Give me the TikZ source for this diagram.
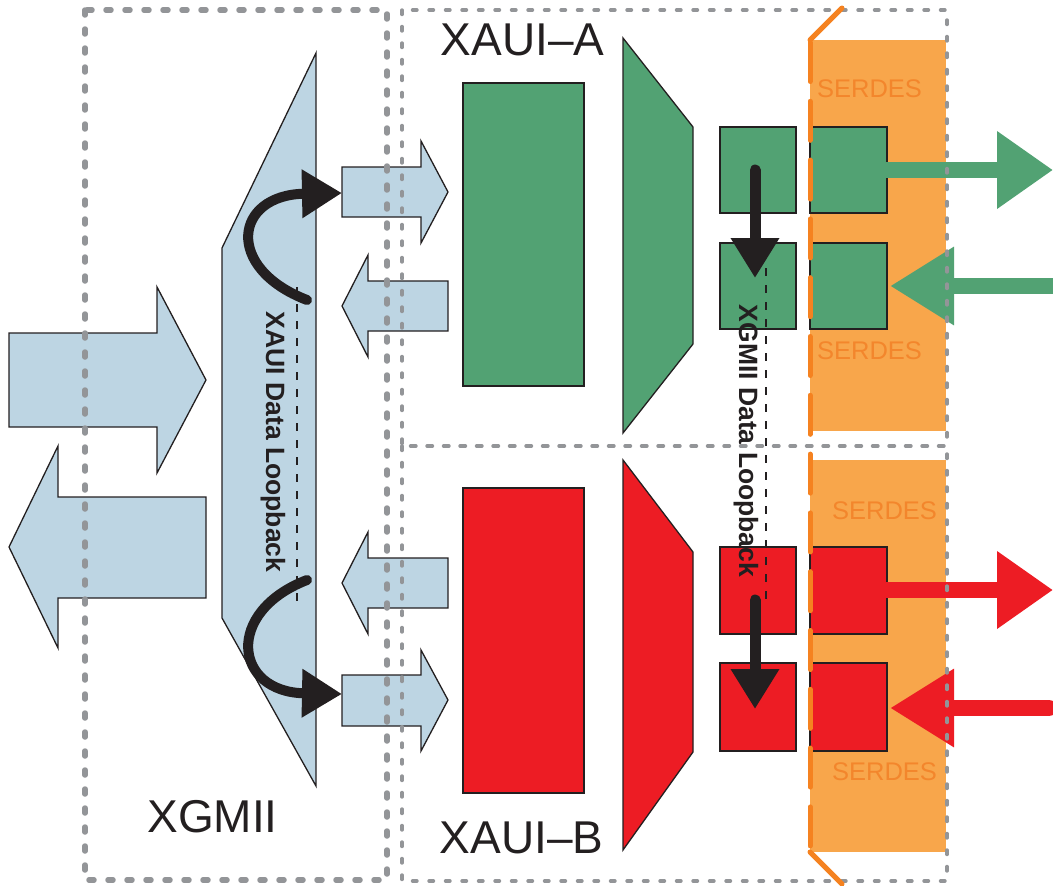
\documentclass[tikz,border=0pt]{standalone}
\usepackage{fontspec}
\setmainfont{Liberation Sans}
\usetikzlibrary{arrows.meta}
\definecolor{lblue}{HTML}{BDD5E3}
\definecolor{ink}{HTML}{231F20}
\definecolor{xgreen}{HTML}{52A273}
\definecolor{xred}{HTML}{ED1C24}
\definecolor{ofill}{HTML}{F8A64B}
\definecolor{oline}{HTML}{F58220}
\definecolor{otext}{HTML}{F3862C}
\definecolor{gdash}{HTML}{939598}
\tikzset{
  outl/.style={draw=ink, line width=1.3pt, line join=miter},
  bluesh/.style={outl, fill=lblue},
  blockbox/.style={outl, inner sep=0pt, outer sep=0pt, minimum width=121pt},
  sq/.style={outl, inner sep=0pt, outer sep=0pt, minimum width=76pt, minimum height=86pt},
  bigbox/.style={gdash, line width=5.5pt, line cap=round, dash pattern=on 5pt off 14pt},
  smallbox/.style={gdash, line width=3.4pt, line cap=round, dash pattern=on 4.5pt off 12pt},
  loopcurve/.style={ink, line width=10pt, line cap=round, -{Triangle[length=40pt,width=46pt]}},
  loopdown/.style={ink, line width=11pt, line cap=round, -{Triangle[length=40pt,width=46pt]}},
  guide/.style={ink, line width=1.4pt, dash pattern=on 8pt off 9pt},
  colarrow/.style={line width=16pt, line cap=round, -{Triangle[length=56pt,width=74pt]}},
  colarrowL/.style={line width=16pt, line cap=round, -{Triangle[length=64pt,width=74pt]}},
  bigtext/.style={ink, font=\fontsize{46}{46}\selectfont, anchor=base, inner sep=0pt},
  serdes/.style={otext, font=\fontsize{25.5}{25.5}\selectfont, anchor=base, inner sep=0pt},
  looptext/.style={ink, font=\bfseries\fontsize{26.5}{26.5}\selectfont, rotate=-90, inner sep=0pt},
  oedge/.style={oline, line width=5pt, line cap=round}
}
\begin{document}
\begin{tikzpicture}[x=1pt,y=-1pt]
\useasboundingbox (0,0) rectangle (1053,886);

% orange SERDES areas
\fill[ofill] (810,40) rectangle (946,431);
\fill[ofill] (810,460) rectangle (946,852);

% XGMII trapezoid
\filldraw[bluesh] (316,53) -- (316,786) -- (222,618) -- (222,248) -- cycle;

% big XGMII arrows
\filldraw[bluesh] (9,333) -- (157,333) -- (157,287) -- (206,380) -- (157,473) -- (157,427) -- (9,427) -- cycle;
\filldraw[bluesh] (206,497) -- (58,497) -- (58,446) -- (9,547) -- (58,648) -- (58,598) -- (206,598) -- cycle;

% small blue arrows
\filldraw[bluesh] (342,167) -- (421,167) -- (421,141) -- (448,192) -- (421,243) -- (421,217) -- (342,217) -- cycle;
\filldraw[bluesh] (448,281) -- (368,281) -- (368,255) -- (342,306) -- (368,357) -- (368,331) -- (448,331) -- cycle;
\filldraw[bluesh] (448,558) -- (368,558) -- (368,532) -- (342,583) -- (368,634) -- (368,608) -- (448,608) -- cycle;
\filldraw[bluesh] (342,675) -- (421,675) -- (421,650) -- (448,700) -- (421,751) -- (421,726) -- (342,726) -- cycle;
\coordinate (inA) at (342,193);
\coordinate (inB) at (342,694);
\coordinate (loopA) at (307,300);
\coordinate (loopB) at (307,580);

% XAUI blocks
\node[blockbox, fill=xgreen, minimum height=303pt] (blkA) at (523.5,234.5) {};
\node[blockbox, fill=xred, minimum height=305pt] (blkB) at (523.5,640.5) {};
\filldraw[outl, fill=xgreen] (623,38) -- (693,127) -- (693,344) -- (623,433) -- cycle;
\filldraw[outl, fill=xred] (623,460) -- (693,552) -- (693,752) -- (623,850) -- cycle;

% small squares
\node[sq, fill=xgreen] (a1) at (758,170) {};
\node[sq, fill=xgreen] (a2) at (758,286) {};
\node[sq, fill=xgreen, minimum width=77pt] (a3) at (848.5,170) {};
\node[sq, fill=xgreen, minimum width=77pt] (a4) at (848.5,286) {};
\node[sq, fill=xred, minimum height=87pt] (b1) at (758,590.5) {};
\node[sq, fill=xred, minimum height=88pt] (b2) at (758,707) {};
\node[sq, fill=xred, minimum width=77pt, minimum height=87pt] (b3) at (848.5,590.5) {};
\node[sq, fill=xred, minimum width=77pt, minimum height=88pt] (b4) at (848.5,707) {};

% guide dashed lines
\coordinate (g1s) at (297,287);
\coordinate (g1e) at (297,607);
\coordinate (g2s) at (766,268);
\coordinate (g2e) at (766,607);
\draw[guide] (g1s) -- (g1e);
\draw[guide] (g2s) -- (g2e);

% XAUI loopback curves
\draw[loopcurve] (loopA) .. controls (224,268) and (234,195) .. (inA);
\draw[loopcurve] (loopB) .. controls (224,612) and (234,692) .. (inB);

% XGMII loopback arrows
\coordinate (dA) at (755,170);
\coordinate (dAt) at (755,278);
\coordinate (dB) at (755,600);
\coordinate (dBt) at (755,709);
\draw[loopdown] (dA) -- (dAt);
\draw[loopdown] (dB) -- (dBt);

% line arrows
\coordinate (oA) at (1053,170);
\coordinate (iA) at (1060,286);
\coordinate (oB) at (1053,590);
\coordinate (iB) at (1049,708);
\draw[colarrow, xgreen] (a3.east |- 0,170) -- (oA);
\draw[colarrowL, xgreen] (iA) -- (890,286);
\draw[colarrow, xred] (b3.east |- 0,590) -- (oB);
\draw[colarrowL, xred] (iB) -- (890,708);

% gray dashed boxes
\draw[bigbox] (85,10) rectangle (387,880);
\draw[smallbox] (402,10) rectangle (947,446);
\draw[smallbox] (402,446) rectangle (947,881);

% orange SERDES boundary
\draw[oedge] (842,8) -- (810,40);
\draw[oedge] (810,852) -- (842,884);
\draw[oedge, dash pattern=on 39pt off 19.8pt] (810,42.5) -- (810,850);

% texts
\node[bigtext] (tA) at (522.5,55) {XAUI–A};
\node[bigtext] (tB) at (521.5,853) {XAUI–B};
\node[bigtext] (tX) at (212.5,832) {XGMII};
\node[serdes] (s1) at (869.5,97) {SERDES};
\node[serdes] (s2) at (869.5,359) {SERDES};
\node[serdes] (s3) at (884.5,519) {SERDES};
\node[serdes] (s4) at (884.5,780) {SERDES};
\node[looptext] (lx) at (273,442) {XAUI Data Loopback};
\node[looptext] (lg) at (746,441) {XGMII Data Loopback};
\end{tikzpicture}
\end{document}
